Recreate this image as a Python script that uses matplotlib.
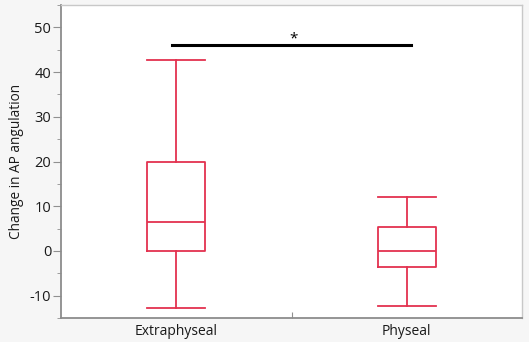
import matplotlib
matplotlib.use('Agg')
import matplotlib.pyplot as plt
from matplotlib.ticker import MultipleLocator

plt.rcParams['font.family'] = ['Open Sans', 'DejaVu Sans']
plt.rcParams['axes.unicode_minus'] = False

# box statistics
groups = ['Extraphyseal', 'Physeal']
whislo = [-12.7, -12.4]
q1 = [0.0, -3.7]
med = [6.5, 0.0]
q3 = [20.0, 5.4]
whishi = [42.6, 12.0]

sig_y = 46
sig_label = '*'

red = '#e3324f'

fig = plt.figure(figsize=(5.29, 3.42), dpi=100, facecolor='#f6f6f6')
ax = fig.add_axes([0.1153, 0.0702, 0.8715, 0.915])
ax.set_facecolor('white')

stats = []
for i, g in enumerate(groups):
    stats.append({'label': g, 'whislo': whislo[i], 'q1': q1[i], 'med': med[i],
                  'q3': q3[i], 'whishi': whishi[i], 'fliers': []})

ax.bxp(stats, positions=[1, 2], widths=0.25, showfliers=False,
       boxprops=dict(color=red, linewidth=1.3),
       medianprops=dict(color=red, linewidth=1.3),
       whiskerprops=dict(color=red, linewidth=1.3),
       capprops=dict(color=red, linewidth=1.3),
       capwidths=0.25)

# significance bar
ax.plot([0.98, 2.02], [sig_y, sig_y], color='black', linewidth=2.2)
ax.text(1.51, sig_y + 1.4, sig_label, ha='center', va='center', fontsize=11)

ax.set_xlim(0.5, 2.5)
ax.set_ylim(-15, 55)
ax.set_xticks([1.5])
ax.set_xticklabels([''])
ax.set_xticks([1, 2], minor=True)
ax.set_xticklabels(groups, minor=True)
ax.tick_params(axis='x', which='minor', length=0, labelsize=10, pad=4, labelcolor='#1a1a1a')
ax.tick_params(axis='x', which='major', length=4, direction='in', color='#909090')

ax.yaxis.set_major_locator(MultipleLocator(10))
ax.yaxis.set_minor_locator(MultipleLocator(5))
ax.tick_params(axis='y', which='major', length=6, color='#909090', labelsize=10.5, pad=1,
               labelcolor='#1a1a1a')
ax.tick_params(axis='y', which='minor', length=3, color='#909090')
ax.set_ylabel('Change in AP angulation', fontsize=9.8, labelpad=4, color='#1a1a1a')

for s in ['left', 'bottom']:
    ax.spines[s].set_color('#8c8c8c')
    ax.spines[s].set_linewidth(1.3)
for s in ['top', 'right']:
    ax.spines[s].set_color('#c8c8c8')
    ax.spines[s].set_linewidth(1.0)

fig.savefig('out.png', dpi=100, facecolor=fig.get_facecolor())
